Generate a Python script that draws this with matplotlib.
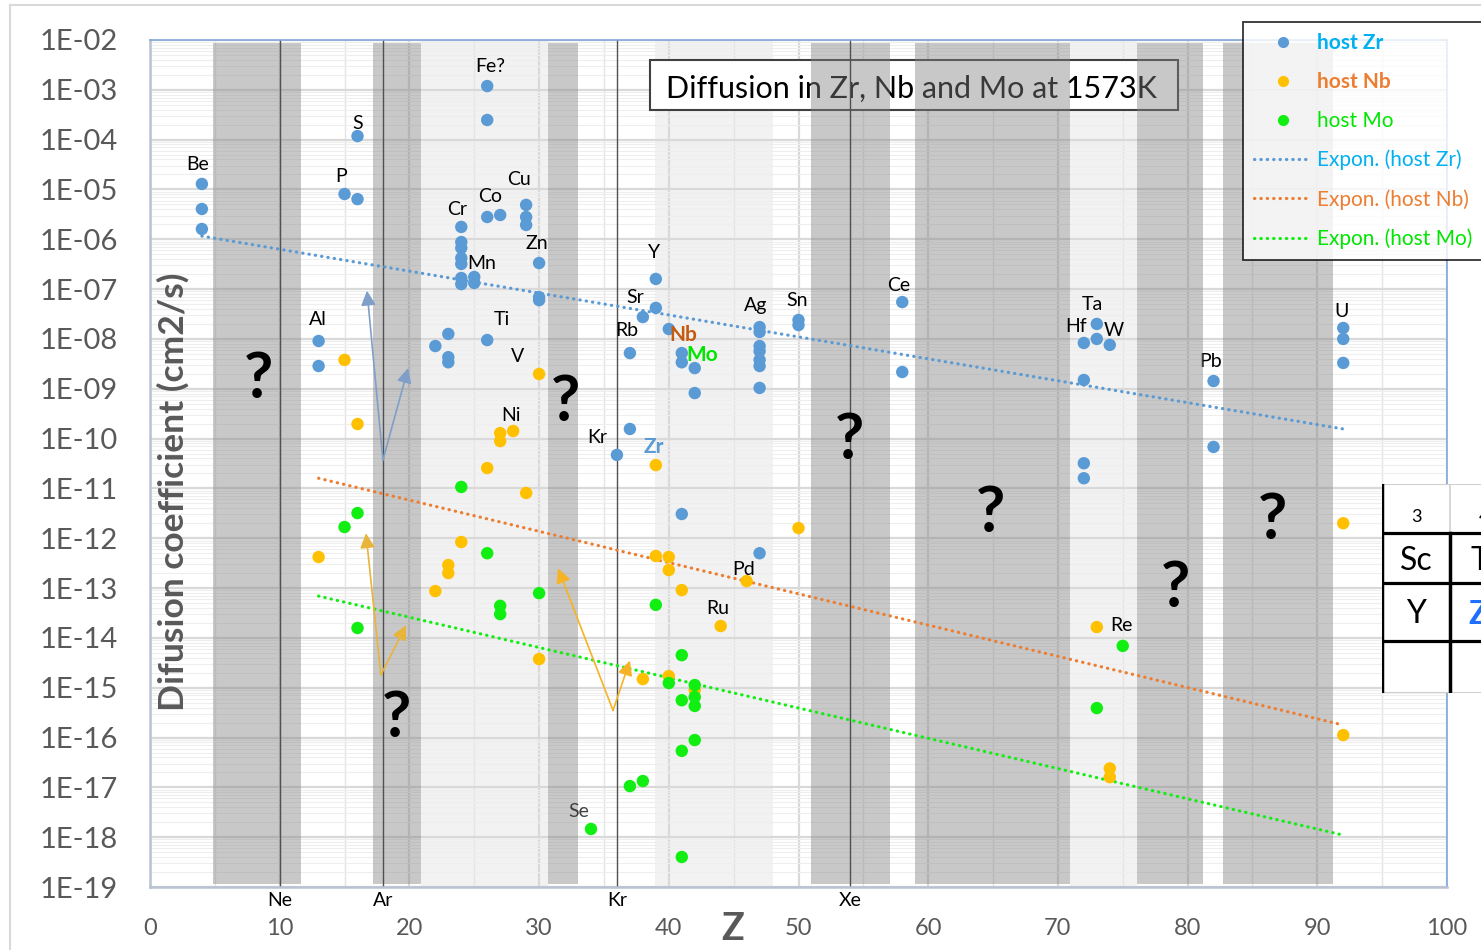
import numpy as np
import matplotlib
matplotlib.use("Agg")
import matplotlib.pyplot as plt
from matplotlib.patches import Rectangle
from matplotlib.lines import Line2D
from matplotlib.ticker import FixedLocator, LogLocator, NullFormatter

plt.rcParams['font.family'] = ['Lato', 'DejaVu Sans']

# --- data (Z, D in cm2/s) ---
zr_z = [4, 4, 4, 13, 13, 15, 16, 16, 22, 23, 23, 23,
        24, 24, 24, 24, 24, 24, 24, 25, 25, 26, 26, 26, 26, 27,
        29, 29, 29, 30, 30, 30, 36, 37, 37, 38, 39, 39, 40,
        41, 41, 41, 42, 42, 47, 47, 47, 47, 47, 47, 47, 47,
        50, 50, 58, 58, 72, 72, 72, 72, 73, 73, 74, 82, 82, 92, 92, 92]
zr_d = [1.29e-5, 4.06e-6, 1.61e-6, 9.1e-9, 2.86e-9, 8.1e-6, 1.18e-4, 6.4e-6,
        7.2e-9, 1.26e-8, 4.3e-9, 3.4e-9,
        1.77e-6, 8.8e-7, 6.7e-7, 4.2e-7, 3.2e-7, 1.67e-7, 1.26e-7, 1.75e-7, 1.33e-7,
        1.19e-3, 2.48e-4, 2.8e-6, 9.5e-9, 3.07e-6,
        4.9e-6, 2.8e-6, 1.94e-6, 3.34e-7, 6.9e-8, 6.0e-8, 4.7e-11, 5.2e-9, 1.56e-10,
        2.75e-8, 1.6e-7, 4.2e-8, 1.58e-8,
        5.2e-9, 3.4e-9, 3.06e-12, 2.6e-9, 8.2e-10,
        1.73e-8, 1.38e-8, 7.2e-9, 5.7e-9, 3.8e-9, 2.86e-9, 1.04e-9, 5.0e-13,
        2.4e-8, 1.9e-8, 5.5e-8, 2.17e-9, 8.3e-9, 1.5e-9, 3.2e-11, 1.6e-11,
        2.0e-8, 1.0e-8, 7.6e-9, 1.43e-9, 6.8e-11, 1.66e-8, 1.0e-8, 3.3e-9]

nb_z = [13, 15, 16, 22, 23, 23, 24, 26, 27, 27, 28, 29, 30, 30,
        38, 39, 39, 40, 40, 40, 41, 42, 44, 46, 50, 73, 74, 74, 92, 92]
nb_d = [4.2e-13, 3.8e-9, 1.96e-10, 8.7e-14, 2.9e-13, 2.0e-13, 8.4e-13, 2.56e-11,
        1.29e-10, 8.9e-11, 1.42e-10, 8.1e-12, 1.98e-9, 3.76e-15,
        1.49e-15, 2.94e-11, 4.4e-13, 4.2e-13, 2.3e-13, 1.71e-15, 9.1e-14, 9.0e-16,
        1.73e-14, 1.38e-13, 1.6e-12, 1.65e-14, 2.4e-17, 1.6e-17, 2.0e-12, 1.12e-16]

mo_z = [15, 16, 16, 24, 26, 27, 27, 30, 34, 37, 38, 39, 40,
        41, 41, 41, 41, 42, 42, 42, 42, 73, 75]
mo_d = [1.68e-12, 3.2e-12, 1.58e-14, 1.07e-11, 5.0e-13, 4.4e-14, 3.0e-14, 7.9e-14,
        1.46e-18, 1.06e-17, 1.34e-17, 4.6e-14, 1.24e-15,
        4.5e-15, 5.6e-16, 5.4e-17, 4.0e-19, 1.13e-15, 6.5e-16, 4.3e-16, 8.9e-17,
        3.9e-16, 6.9e-15]

# exponential trend lines (end points)
fit_zr_z, fit_zr_d = [4, 92], [1.16e-6, 1.56e-10]
fit_nb_z, fit_nb_d = [13, 92], [1.6e-11, 1.78e-16]
fit_mo_z, fit_mo_d = [13, 92], [6.9e-14, 1.1e-18]

# element labels
lab_names = ['Be', 'S', 'P', 'Al', 'Fe?', 'Cu', 'Co', 'Cr', 'Zn', 'Mn', 'Ti', 'V', 'Ni',
             'Y', 'Sr', 'Rb', 'Kr', 'Ag', 'Sn', 'Ce', 'Ta', 'Hf', 'W', 'U',
             'Pd', 'Ru', 'Re']
lab_z = [3.7, 16.0, 14.7, 12.95, 26.2, 28.45, 26.2, 23.67, 29.84, 25.6, 27.14, 28.37, 27.83,
         38.86, 37.4, 36.78, 34.46, 46.72, 49.88, 57.75, 72.63, 71.4, 74.33, 91.9,
         45.8, 43.8, 74.9]
lab_d = [3.2e-5, 2.15e-4, 1.86e-5, 2.4e-8, 3.0e-3, 1.55e-5, 7.1e-6, 3.9e-6, 8.1e-7,
         3.2e-7, 2.4e-8, 4.4e-9, 2.95e-10,
         5.5e-7, 6.9e-8, 1.5e-8, 1.07e-10, 4.6e-8, 5.8e-8, 1.2e-7, 4.8e-8, 1.74e-8,
         1.5e-8, 3.6e-8, 2.4e-13, 3.8e-14, 1.74e-14]
host_names = ['Nb', 'Mo', 'Zr']
host_z = [41.1, 42.56, 38.86]
host_d = [1.2e-8, 4.8e-9, 6.8e-11]
host_col = ['#c55a11', '#00e600', '#5b9bd5']

# noble gases
noble_names = ['Ne', 'Ar', 'Kr', 'Xe']
noble_z = [10, 18, 36, 54]

# shaded bands of Z
dark_bands = [(4.86, 11.64), (17.19, 20.89), (30.69, 33.0), (50.96, 57.05),
              (58.98, 70.93), (76.1, 81.19), (82.73, 91.21)]
light_bands = [(20.89, 30.69), (38.94, 48.03), (70.93, 76.1)]

# question marks
q_z = [8.33, 19.04, 32.0, 53.9, 64.84, 79.03, 86.58]
q_d = [1.5e-9, 2.45e-16, 5.4e-10, 9.3e-11, 3.2e-12, 1.0e-13, 2.3e-12]

# V-shaped arrows: (vertex, tip1, tip2)
arrows = [((17.96, 3.7e-11), (16.73, 9.3e-8), (19.9, 2.6e-9), '#7f9fc8'),
          ((17.8, 1.8e-15), (16.65, 1.26e-12), (19.74, 1.8e-14), '#e8b43a'),
          ((35.7, 3.5e-16), (31.46, 2.5e-13), (37.0, 3.5e-15), '#f5b325')]

table_head = ['3', '4']
table_rows = [['Sc', 'Ti'], ['Y', 'Zr']]

C_ZR, C_NB, C_MO = '#5b9bd5', '#ffc000', '#11ee11'
GREY = '#595959'

W, H = 1481, 950
fig = plt.figure(figsize=(W / 100, H / 100), dpi=100)
ax = fig.add_axes([150 / W, 1 - 887 / H, 1297 / W, 847 / H])
ax.set_yscale('log')
ax.set_xlim(0, 100)
ax.set_ylim(1e-19, 1e-2)
ax.set_axisbelow(True)

for a, b in light_bands:
    ax.axvspan(a, b, color='#f2f2f2', zorder=0.1, lw=0)
for a, b in dark_bands:
    ax.axvspan(a, b, ymin=0.004, ymax=0.996, color='#838383', alpha=0.44, zorder=1, lw=0)

ax.xaxis.set_major_locator(FixedLocator(np.arange(0, 101, 10)))
ax.xaxis.set_minor_locator(FixedLocator(np.arange(5, 100, 10)))
ax.yaxis.set_major_locator(FixedLocator([10.0 ** k for k in range(-19, -1)]))
ax.yaxis.set_minor_locator(LogLocator(base=10, subs=np.arange(2, 10), numticks=40))
ax.yaxis.set_minor_formatter(NullFormatter())
ax.set_yticklabels([f"1E-{-k:02d}" for k in range(-19, -1)])
ax.grid(True, which='major', color='#d9d9d9', lw=1.6)
ax.grid(True, which='minor', axis='y', color='#eeeeee', lw=0.8)
ax.grid(True, which='minor', axis='x', color='#e4e4e4', lw=1.0)
ax.tick_params(which='both', length=0)
ax.tick_params(axis='y', labelsize=21, labelcolor=GREY, pad=23)
ax.tick_params(axis='x', labelsize=17, labelcolor=GREY, pad=22)

for s in ['left', 'bottom']:
    ax.spines[s].set_color('#b8c2d2')
    ax.spines[s].set_linewidth(1.8)
for s in ['top', 'right']:
    ax.spines[s].set_color('#7fa7d9')
    ax.spines[s].set_linewidth(1.2)

# title box (under the bands)
ax.add_patch(Rectangle((0.3855, 0.9174), 0.4071, 0.059, transform=ax.transAxes,
                       facecolor='white', edgecolor='#404040', lw=1.5, zorder=0.8))
ax.text(0.398, 0.942, 'Diffusion in Zr, Nb and Mo at 1573K', transform=ax.transAxes,
        fontsize=22, ha='left', va='center', color='black', zorder=0.85)

for z in noble_z:
    ax.axvline(z, color='#505050', lw=1.0, zorder=1.2)
for n, z in zip(noble_names, noble_z):
    ax.text(z, -0.016, n, transform=ax.get_xaxis_transform(), fontsize=14,
            ha='center', va='center', color='black')

ls_dot = (0, (0.1, 1.9))
ax.plot(fit_zr_z, fit_zr_d, color=C_ZR, lw=2.3, ls=ls_dot, dash_capstyle='round', zorder=2)
ax.plot(fit_nb_z, fit_nb_d, color='#ed7d31', lw=2.3, ls=ls_dot, dash_capstyle='round', zorder=2)
ax.plot(fit_mo_z, fit_mo_d, color=C_MO, lw=2.3, ls=ls_dot, dash_capstyle='round', zorder=2)

for vtx, t1, t2, col in arrows:
    for tip in (t1, t2):
        ax.annotate('', xy=tip, xytext=vtx, zorder=2,
                    arrowprops=dict(arrowstyle='-|>', color=col, lw=1.2,
                                    mutation_scale=22, shrinkA=0, shrinkB=0))

ax.scatter(zr_z, zr_d, s=80, color=C_ZR, edgecolors='none', zorder=3)
ax.scatter(nb_z, nb_d, s=80, color=C_NB, edgecolors='none', zorder=3)
ax.scatter(mo_z, mo_d, s=80, color=C_MO, edgecolors='none', zorder=3.1)

for n, z, d in zip(lab_names, lab_z, lab_d):
    ax.text(z, d, n, fontsize=14, ha='center', va='center', zorder=4, color='black')
ax.text(81.8, 3.5e-9, 'Pb', fontsize=14, ha='center', va='center', zorder=0.9)
ax.text(33.08, 3.3e-18, 'Se', fontsize=14, ha='center', va='center', zorder=4, color='#404040')
for n, z, d, c in zip(host_names, host_z, host_d, host_col):
    ax.text(z, d, n, fontsize=15, fontweight='bold', ha='center', va='center',
            zorder=4, color=c)

for z, d in zip(q_z, q_d):
    ax.text(z, d, '?', fontsize=46, fontweight='bold', ha='center', va='center',
            zorder=4, color='black')

ax.set_xlabel('Z', fontsize=27, fontweight='bold', color=GREY, va='center')
ax.xaxis.set_label_coords(0.4495, -0.049)
ax.set_ylabel('Difusion coefficient (cm2/s)', fontsize=25.5, fontweight='bold',
              color=GREY, va='center')
ax.yaxis.set_label_coords(0.0177, 0.466)

# legend
handles = [Line2D([], [], ls='none', marker='o', ms=7, color=C_ZR),
           Line2D([], [], ls='none', marker='o', ms=7, color=C_NB),
           Line2D([], [], ls='none', marker='o', ms=7, color=C_MO),
           Line2D([], [], color=C_ZR, lw=2.3, ls=ls_dot, dash_capstyle='round'),
           Line2D([], [], color='#ed7d31', lw=2.3, ls=ls_dot, dash_capstyle='round'),
           Line2D([], [], color=C_MO, lw=2.3, ls=ls_dot, dash_capstyle='round')]
labels = ['host Zr', 'host Nb', 'host Mo',
          'Expon. (host Zr)', 'Expon. (host Nb)', 'Expon. (host Mo)']
leg = fig.legend(handles, labels, loc='upper left', bbox_to_anchor=(1243 / W, 1 - 22 / H),
                 bbox_transform=fig.transFigure, fontsize=15, frameon=True, fancybox=False,
                 edgecolor='black', borderaxespad=0, handlelength=2.7, handletextpad=0.3,
                 labelspacing=0.9, borderpad=0.55)
leg.get_frame().set_linewidth(1.3)
txt_cols = ['#00b0f0', '#ed7d31', '#00e600', '#00b0f0', '#ed7d31', '#00e600']
for t, c, i in zip(leg.get_texts(), txt_cols, range(6)):
    t.set_color(c)
    if i < 2:
        t.set_fontweight('bold')

# partial periodic table at the right edge
tab = fig.add_axes([1382 / W, 1 - 693 / H, 220 / W, 209 / H])
tab.set_xlim(0, 220)
tab.set_ylim(209, 0)
tab.axis('off')
tab.add_patch(Rectangle((0, 0), 220, 209, facecolor='white', edgecolor='none'))
tab.plot([0, 220], [0, 0], color='#d0d0d0', lw=1.5)
tab.plot([0, 220], [209, 209], color='#d0d0d0', lw=1.5)
for yy in (49, 99, 157):
    tab.plot([0, 220], [yy, yy], color='black', lw=2.3)
tab.plot([0, 0], [0, 209], color='black', lw=2.5)
tab.plot([68, 68], [0, 49], color='#d0d0d0', lw=1.2)
tab.plot([68, 68], [49, 209], color='black', lw=2.5)
for j, h in enumerate(table_head):
    tab.text(34 + 68 * j, 33, h, fontsize=13, ha='center', va='center')
for i, row in enumerate(table_rows):
    for j, cell in enumerate(row):
        yy = 77 if i == 0 else 130
        if cell == 'Zr':
            tab.text(34 + 68 * j, yy, cell, fontsize=23, fontweight='bold', color='#1f6fff',
                     ha='center', va='center')
        else:
            tab.text(34 + 68 * j, yy, cell, fontsize=23, ha='center', va='center')

# light outer frame
fig.add_artist(Line2D([10 / W, 10 / W], [0, 1 - 5 / H], transform=fig.transFigure,
                      color='#d9d9d9', lw=1.5))
fig.add_artist(Line2D([10 / W, 1], [1 - 5 / H, 1 - 5 / H], transform=fig.transFigure,
                      color='#d9d9d9', lw=1.5))

fig.savefig('out.png', dpi=100)
